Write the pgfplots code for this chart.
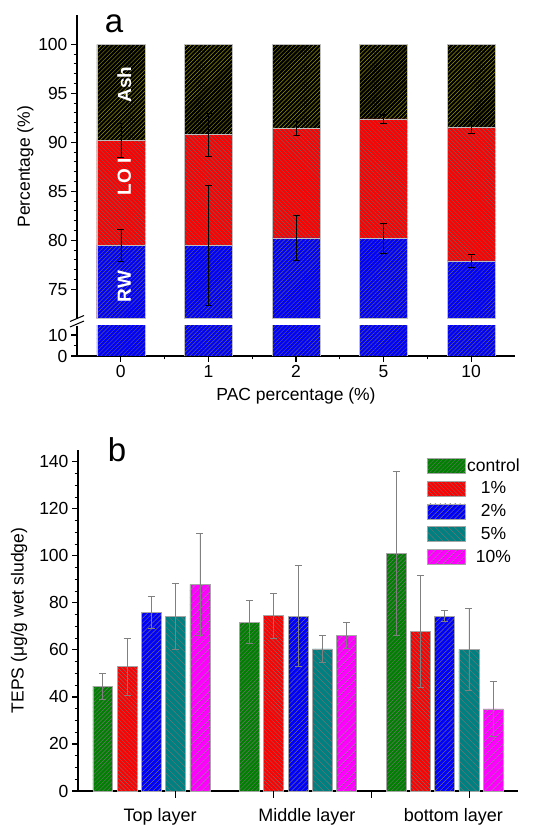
\documentclass[border=0pt]{standalone}
\usepackage{fontspec}
\setmainfont{Liberation Sans}
\usepackage{pgfplots}
\pgfplotsset{compat=1.18}
\usetikzlibrary{patterns.meta}

\definecolor{cgreen}{RGB}{0,128,0}
\definecolor{cteal}{RGB}{0,128,128}
\definecolor{colive}{RGB}{150,150,0}
\definecolor{cred}{RGB}{255,0,0}
\definecolor{cblue}{RGB}{0,0,255}
\definecolor{cmag}{RGB}{255,0,255}

\tikzset{hatch/.style n args={3}{postaction={pattern={Lines[angle=#1,distance=#2,line width=0.45pt]},pattern color=#3}}}

\pgfplotsset{
  every axis/.append style={
    scale only axis,
    axis line style={line width=1.2pt,black},
    xtick align=outside, ytick align=outside,
    major tick length=6pt, minor tick length=3.5pt,
    major tick style={line width=1.2pt,black},
    minor tick style={line width=1pt,black},
    /pgf/number format/assume math mode=true,
    ticklabel style={font=\fontsize{17.5}{17.5}\selectfont},
  },
  aerr/.style={error bars/.cd, y dir=both, y explicit,
    error bar style={black,line width=0.6pt},
    error mark options={rotate=90,black,mark size=3.5pt,line width=0.6pt},
    /pgfplots/.cd},
  berr/.style={error bars/.cd, y dir=both, y explicit,
    error bar style={gray,line width=0.6pt},
    error mark options={rotate=90,gray,mark size=3.5pt,line width=0.6pt},
    /pgfplots/.cd},
  boxleg/.style={legend image code/.code={\draw[##1] (0pt,-7.5pt) rectangle (38pt,7.5pt);}},
}

\begin{document}
\begin{tikzpicture}
\useasboundingbox (0,0) rectangle (554pt,830pt);

% panel a, upper part
\begin{axis}[
  at={(77pt,511.3pt)}, anchor=south west,
  width=438pt, height=303.7pt,
  xmin=-0.5, xmax=4.5, ymin=72, ymax=103,
  axis y line*=left, axis x line=none,
  ytick={75,80,...,100}, minor y tick num=4,
  ybar, bar width=0.547, bar shift=0pt,
  ylabel={Percentage (\%)},
  every axis y label/.style={at={(axis description cs:-0.118,0.5)},rotate=90,anchor=center,
    font=\fontsize{17.5}{17.5}\selectfont},
]
\addplot[fill=black, draw=gray!50, hatch={45}{3pt}{colive}]
  coordinates {(0,100)(1,100)(2,100)(3,100)(4,100)};
\addplot[fill=cred, draw=gray!50, hatch={-45}{3pt}{black!60}, aerr]
  coordinates {(0,90.2) +- (0,1.7) (1,90.8) +- (0,2.2) (2,91.4) +- (0,0.7) (3,92.4) +- (0,0.5) (4,91.5) +- (0,0.6)};
\addplot[fill=cblue, draw=gray!50, hatch={45}{3pt}{black!60}, aerr]
  coordinates {(0,79.5) +- (0,1.65) (1,79.5) +- (0,6.1) (2,80.25) +- (0,2.3) (3,80.2) +- (0,1.55) (4,77.9) +- (0,0.7)};
\node[rotate=90,text=white,font=\bfseries\fontsize{19}{19}\selectfont] at (axis cs:0.04,95.9) {Ash};
\node[rotate=90,text=white,font=\bfseries\fontsize{19}{19}\selectfont] at (axis cs:0.04,86.5) {LO I};
\node[rotate=90,text=white,font=\bfseries\fontsize{19}{19}\selectfont] at (axis cs:0.04,75.3) {RW};
\end{axis}

% panel a, lower part
\begin{axis}[
  at={(77pt,474pt)}, anchor=south west,
  width=438pt, height=30pt,
  xmin=-0.5, xmax=4.5, ymin=0, ymax=14.3,
  axis x line*=bottom, axis y line*=left,
  ytick={0,10}, minor y tick num=1,
  xtick={0,...,4}, xticklabels={0,1,2,5,10}, minor x tick num=1,
  ybar, bar width=0.547, bar shift=0pt,
  xlabel={PAC percentage (\%)},
  every axis x label/.style={at={(axis description cs:0.5,0)},anchor=center,yshift=-40pt,
    font=\fontsize{17.5}{17.5}\selectfont},
]
\addplot[fill=cblue, draw=gray!50, hatch={45}{3pt}{black!60}]
  coordinates {(0,79.5)(1,79.5)(2,80.25)(3,80.2)(4,77.9)};
\end{axis}

\draw[line width=1pt] (70pt,508.5pt) -- (84pt,514.5pt);
\draw[line width=1pt] (70pt,503pt) -- (84pt,509pt);
\node[font=\fontsize{33}{33}\selectfont] at (114pt,806pt) {a};

% panel b: groups at x = 0, 6, 12
\begin{axis}[
  at={(78pt,39pt)}, anchor=south west,
  width=440pt, height=341pt,
  xmin=-3, xmax=15, ymin=0, ymax=145,
  axis x line*=bottom, axis y line*=left,
  ytick={0,20,...,140}, minor y tick num=3,
  xtick=\empty,
  clip mode=individual,
  ybar, bar width=0.816,
  ylabel={TEPS (μg/g wet sludge)},
  every axis y label/.style={at={(axis description cs:-0.134,0.5)},rotate=90,anchor=center,
    font=\fontsize{17.5}{17.5}\selectfont},
  legend style={draw=none, fill=none, at={(axis description cs:0.785,0.987)}, anchor=north west,
    font=\fontsize{17.5}{17.5}\selectfont, row sep=5pt,
    /tikz/every even column/.append style={column sep=5pt}},
  legend cell align=center,
]
\addplot[bar shift=-1.986, fill=cgreen, draw=gray!70, line width=0.6pt, hatch={45}{3pt}{black!55}, boxleg, berr]
  coordinates {(0,44.6) +- (0,5.5) (6,71.8) +- (0,9.2) (12,101.0) +- (0,34.8)};
\addplot[bar shift=-0.993, fill=cred, draw=gray!70, line width=0.6pt, hatch={-45}{3pt}{black!55}, boxleg, berr]
  coordinates {(0,52.9) +- (0,12.1) (6,74.5) +- (0,9.4) (12,67.9) +- (0,23.7)};
\addplot[bar shift=0, fill=cblue, draw=gray!70, line width=0.6pt, hatch={45}{3.5pt}{black!55}, boxleg, berr]
  coordinates {(0,76.0) +- (0,6.9) (6,74.4) +- (0,21.5) (12,74.4) +- (0,2.3)};
\addplot[bar shift=0.993, fill=cteal, draw=gray!70, line width=0.6pt, hatch={-45}{4.5pt}{black!55}, boxleg, berr]
  coordinates {(0,74.4) +- (0,14.1) (6,60.4) +- (0,5.6) (12,60.2) +- (0,17.5)};
\addplot[bar shift=1.986, fill=cmag, draw=gray!70, line width=0.6pt, hatch={45}{5pt}{black!45}, boxleg, berr]
  coordinates {(0,87.9) +- (0,21.6) (6,66.2) +- (0,5.6) (12,34.9) +- (0,11.7)};
\legend{control,1\%,2\%,5\%,10\%}
% x tick marks between the groups
\draw[line width=1.2pt] (axis cs:1,0) -- ++(0pt,-7pt);
\draw[line width=1.2pt] (axis cs:5,0) -- ++(0pt,-7pt);
\draw[line width=1.2pt] (axis cs:9,0) -- ++(0pt,-7pt);
\draw[line width=1.2pt] (axis cs:13,0) -- ++(0pt,-7pt);
\node[font=\fontsize{18}{18}\selectfont, yshift=-26pt] at (axis cs:0.36,0) {Top layer};
\node[font=\fontsize{18}{18}\selectfont, yshift=-26pt] at (axis cs:6.36,0) {Middle layer};
\node[font=\fontsize{18}{18}\selectfont, yshift=-26pt] at (axis cs:12.36,0) {bottom layer};
\end{axis}
\node[font=\fontsize{33}{33}\selectfont] at (117pt,380pt) {b};
\end{tikzpicture}
\end{document}
